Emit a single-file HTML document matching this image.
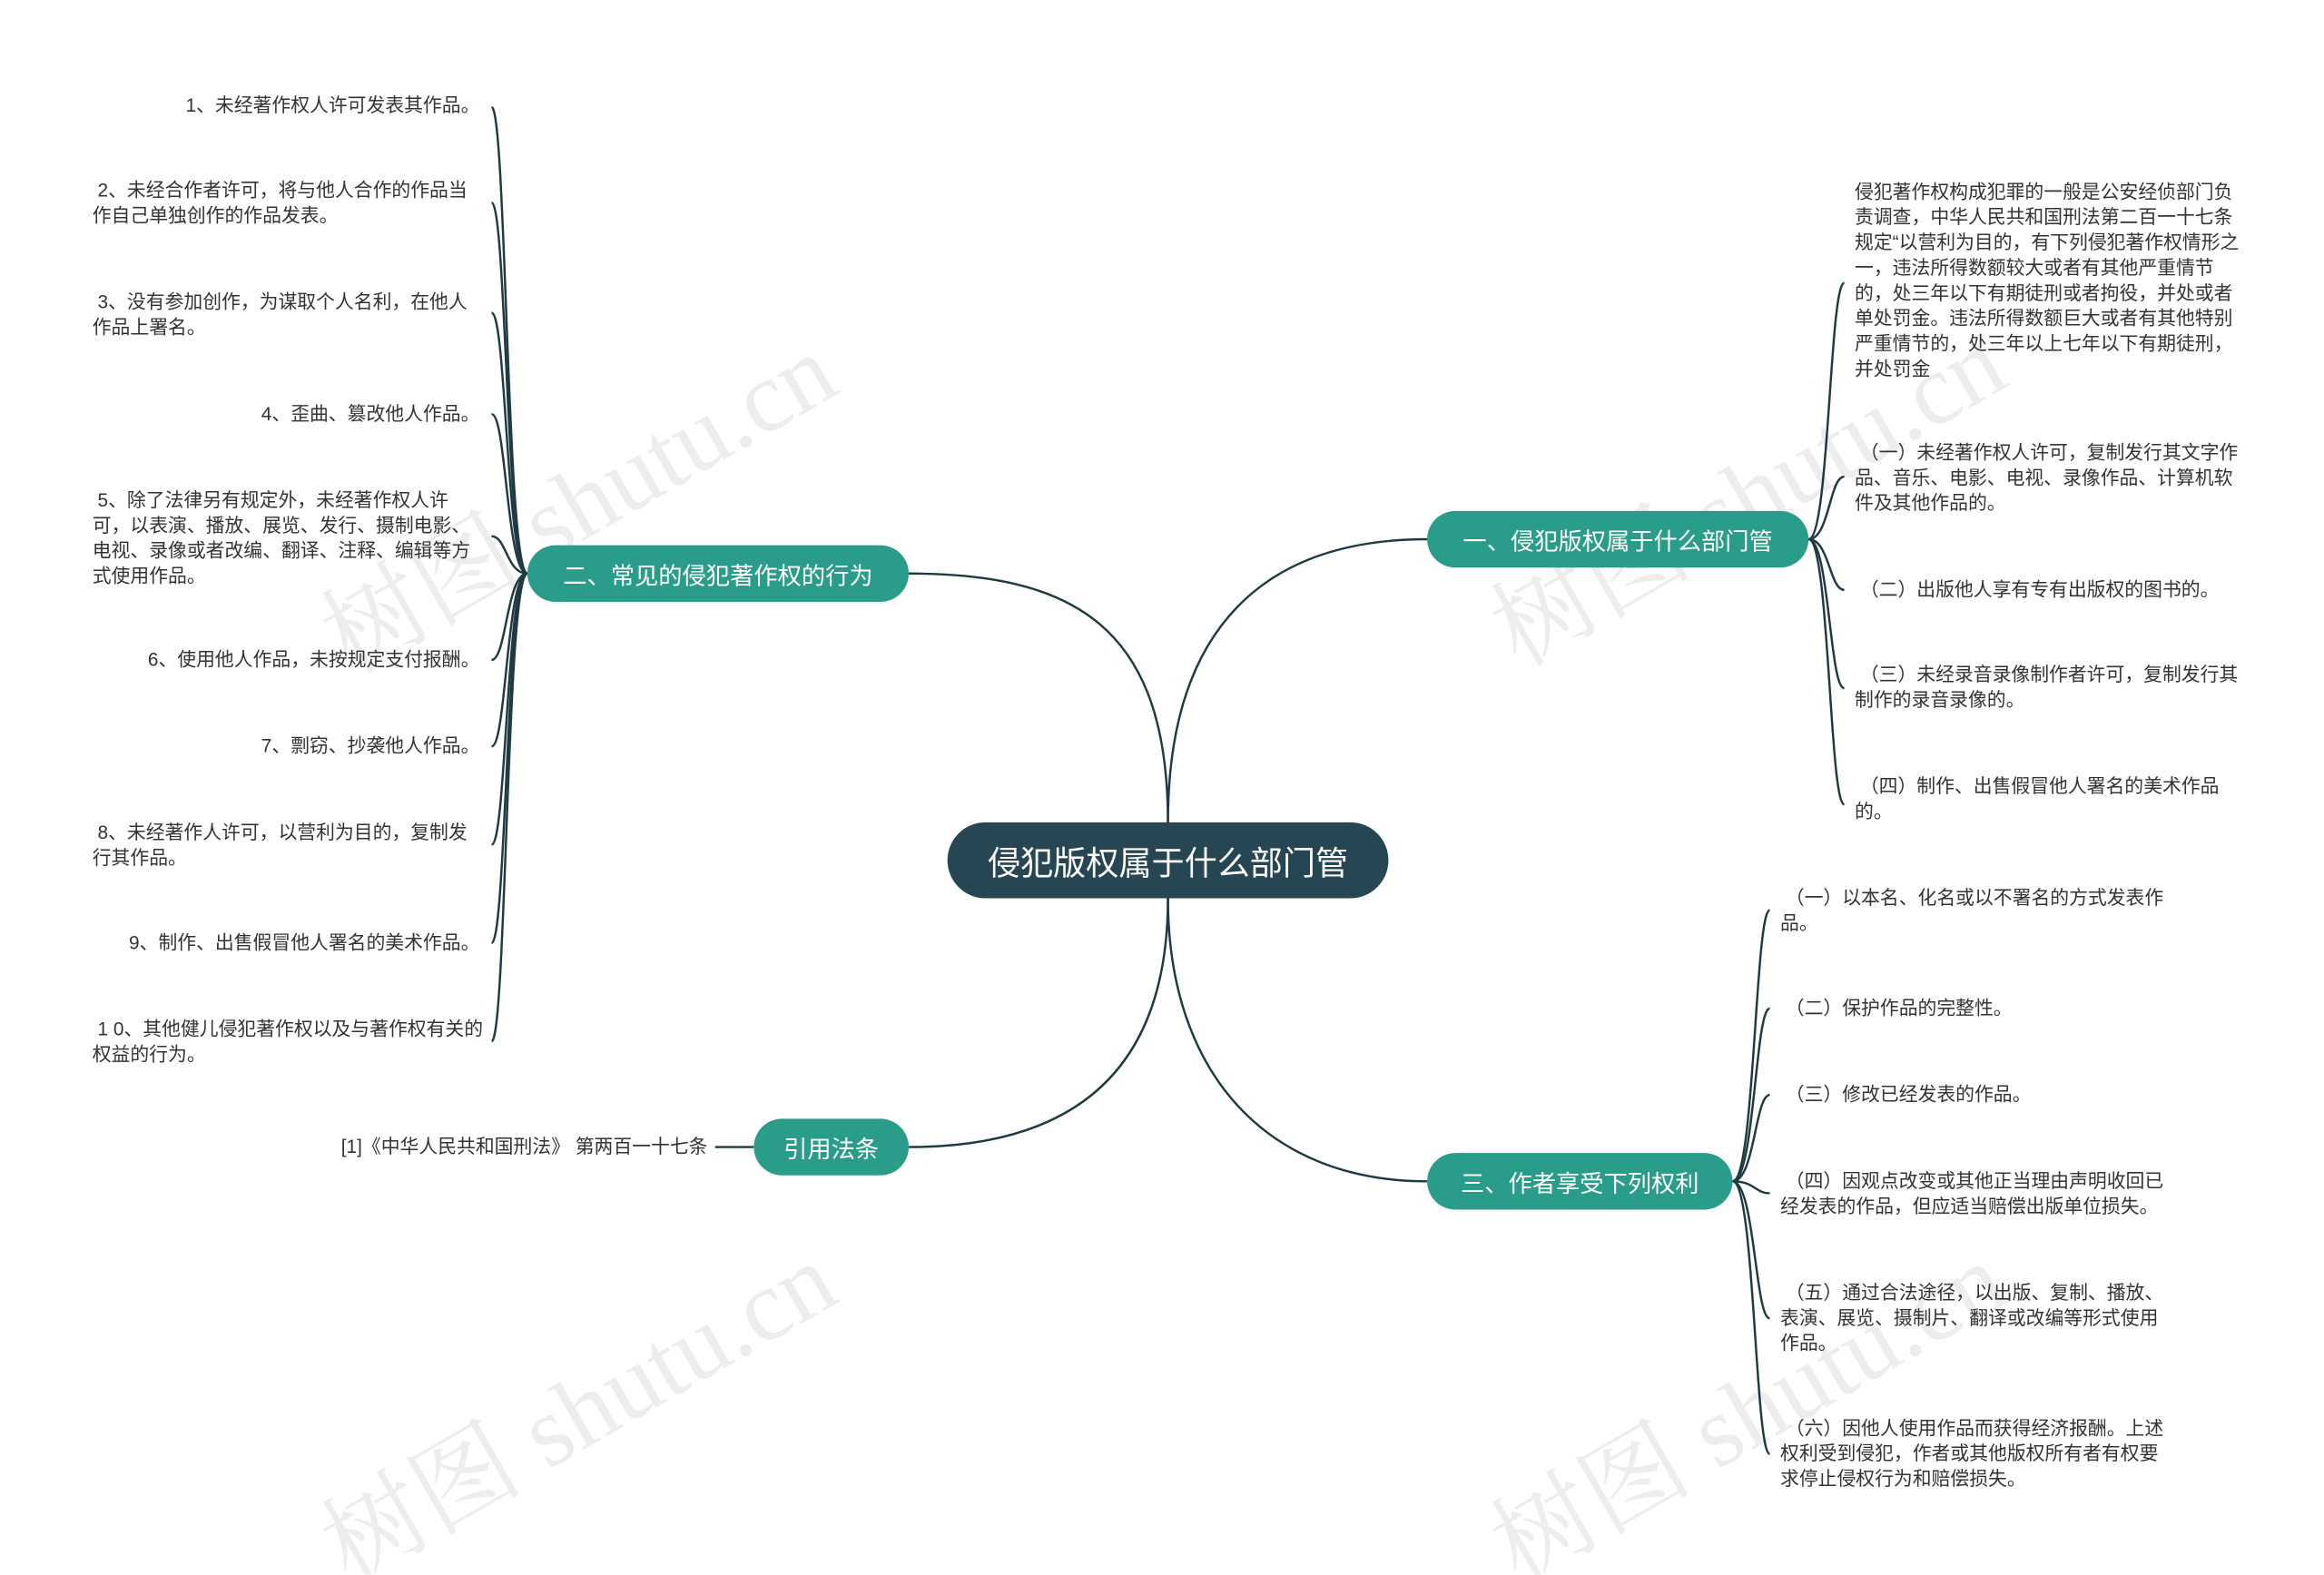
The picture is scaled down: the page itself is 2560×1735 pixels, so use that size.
<!DOCTYPE html>
<html><head><meta charset="utf-8"><style>
html,body{margin:0;padding:0;background:#fff;}
#c{position:absolute;left:0;top:0;width:1560px;height:1057px;transform:scale(1.641);transform-origin:0 0;font-family:"Liberation Sans","Noto Sans CJK SC",sans-serif;overflow:hidden;}
.t{position:absolute;font-size:12.7px;line-height:17px;color:#333;}
.r{text-align:right;}
.n{position:absolute;background:#2a9d8a;color:#fff;border-radius:19px;font-size:16px;display:flex;align-items:center;justify-content:center;}
.w{position:absolute;font-size:68px;color:rgba(0,0,0,0.07);transform:rotate(-30deg);white-space:nowrap;font-family:"Liberation Serif","Noto Serif CJK SC",serif;}
</style></head><body><div id="c">
<svg width="1560" height="1057" style="position:absolute;left:0;top:0" fill="none" stroke="#1f3a40" stroke-width="1.5">
<path d="M784 552 C784 420,850 362,958 362"/>
<path d="M784 552 C784 420,720 385,610 385"/>
<path d="M784 603 C784 720,850 793,958 793"/>
<path d="M784 603 C784 720,720 770,610 770"/>
<path d="M506 770 L480 770"/>
<g>
<path d="M354 385 C340 385,340 72,330 72"/>
<path d="M354 385 C340 385,340 136,330 136"/>
<path d="M354 385 C340 385,340 210,330 210"/>
<path d="M354 385 C340 385,340 278,330 278"/>
<path d="M354 385 C340 385,340 360,330 360"/>
<path d="M354 385 C340 385,340 443,330 443"/>
<path d="M354 385 C340 385,340 501,330 501"/>
<path d="M354 385 C340 385,340 567,330 567"/>
<path d="M354 385 C340 385,340 633,330 633"/>
<path d="M354 385 C340 385,340 699,330 699"/>
</g>
<g>
<path d="M1214 362 C1228 362,1228 190,1238 190"/>
<path d="M1214 362 C1228 362,1228 320,1238 320"/>
<path d="M1214 362 C1228 362,1228 396,1238 396"/>
<path d="M1214 362 C1228 362,1228 462,1238 462"/>
<path d="M1214 362 C1228 362,1228 540,1238 540"/>
</g>
<g>
<path d="M1163 793 C1178 793,1178 611,1188 611"/>
<path d="M1163 793 C1178 793,1178 677,1188 677"/>
<path d="M1163 793 C1178 793,1178 735,1188 735"/>
<path d="M1163 793 C1178 793,1178 801,1188 801"/>
<path d="M1163 793 C1178 793,1178 885,1188 885"/>
<path d="M1163 793 C1178 793,1178 976,1188 976"/>
</g>
</svg>
<div class="w" style="left:195px;top:285px">树图 shutu.cn</div>
<div class="w" style="left:980px;top:280px">树图 shutu.cn</div>
<div class="w" style="left:195px;top:895px">树图 shutu.cn</div>
<div class="w" style="left:980px;top:895px">树图 shutu.cn</div>

<div class="n" style="left:636px;top:552px;width:296px;height:51px;border-radius:26px;background:#264653;font-size:22px;">侵犯版权属于什么部门管</div>
<div class="n" style="left:958px;top:343px;width:256px;height:38px;">一、侵犯版权属于什么部门管</div>
<div class="n" style="left:354px;top:366px;width:256px;height:38px;">二、常见的侵犯著作权的行为</div>
<div class="n" style="left:958px;top:774px;width:205px;height:38px;">三、作者享受下列权利</div>
<div class="n" style="left:506px;top:751px;width:104px;height:38px;">引用法条</div>

<div class="t r" style="left:62px;top:63px;width:260px">1、未经著作权人许可发表其作品。</div>
<div class="t" style="left:62px;top:120px;width:264px">&nbsp;2、未经合作者许可，将与他人合作的作品当作自己单独创作的作品发表。</div>
<div class="t" style="left:62px;top:195px;width:264px">&nbsp;3、没有参加创作，为谋取个人名利，在他人作品上署名。</div>
<div class="t r" style="left:62px;top:270px;width:260px">4、歪曲、篡改他人作品。</div>
<div class="t" style="left:62px;top:328px;width:264px">&nbsp;5、除了法律另有规定外，未经著作权人许可，以表演、播放、展览、发行、摄制电影、电视、录像或者改编、翻译、注释、编辑等方式使用作品。</div>
<div class="t r" style="left:62px;top:435px;width:260px">6、使用他人作品，未按规定支付报酬。</div>
<div class="t r" style="left:62px;top:493px;width:260px">7、剽窃、抄袭他人作品。</div>
<div class="t" style="left:62px;top:551px;width:264px">&nbsp;8、未经著作人许可，以营利为目的，复制发行其作品。</div>
<div class="t r" style="left:62px;top:625px;width:260px">9、制作、出售假冒他人署名的美术作品。</div>
<div class="t" style="left:62px;top:683px;width:264px">&nbsp;1 0、其他健儿侵犯著作权以及与著作权有关的权益的行为。</div>
<div class="t r" style="left:150px;top:762px;width:325px">[1]《中华人民共和国刑法》 第两百一十七条</div>

<div class="t" style="left:1245px;top:121px;width:264px">侵犯著作权构成犯罪的一般是公安经侦部门负责调查，中华人民共和国刑法第二百一十七条规定“以营利为目的，有下列侵犯著作权情形之一，违法所得数额较大或者有其他严重情节的，处三年以下有期徒刑或者拘役，并处或者单处罚金。违法所得数额巨大或者有其他特别严重情节的，处三年以上七年以下有期徒刑，并处罚金</div>
<div class="t" style="left:1245px;top:296px;width:264px">&nbsp;（一）未经著作权人许可，复制发行其文字作品、音乐、电影、电视、录像作品、计算机软件及其他作品的。</div>
<div class="t" style="left:1245px;top:388px;width:264px">&nbsp;（二）出版他人享有专有出版权的图书的。</div>
<div class="t" style="left:1245px;top:445px;width:264px">&nbsp;（三）未经录音录像制作者许可，复制发行其制作的录音录像的。</div>
<div class="t" style="left:1245px;top:520px;width:264px">&nbsp;（四）制作、出售假冒他人署名的美术作品的。</div>

<div class="t" style="left:1195px;top:595px;width:264px">&nbsp;（一）以本名、化名或以不署名的方式发表作品。</div>
<div class="t" style="left:1195px;top:669px;width:264px">&nbsp;（二）保护作品的完整性。</div>
<div class="t" style="left:1195px;top:727px;width:264px">&nbsp;（三）修改已经发表的作品。</div>
<div class="t" style="left:1195px;top:785px;width:264px">&nbsp;（四）因观点改变或其他正当理由声明收回已经发表的作品，但应适当赔偿出版单位损失。</div>
<div class="t" style="left:1195px;top:860px;width:264px">&nbsp;（五）通过合法途径，以出版、复制、播放、表演、展览、摄制片、翻译或改编等形式使用作品。</div>
<div class="t" style="left:1195px;top:951px;width:264px">&nbsp;（六）因他人使用作品而获得经济报酬。上述权利受到侵犯，作者或其他版权所有者有权要求停止侵权行为和赔偿损失。</div>
</div></body></html>
